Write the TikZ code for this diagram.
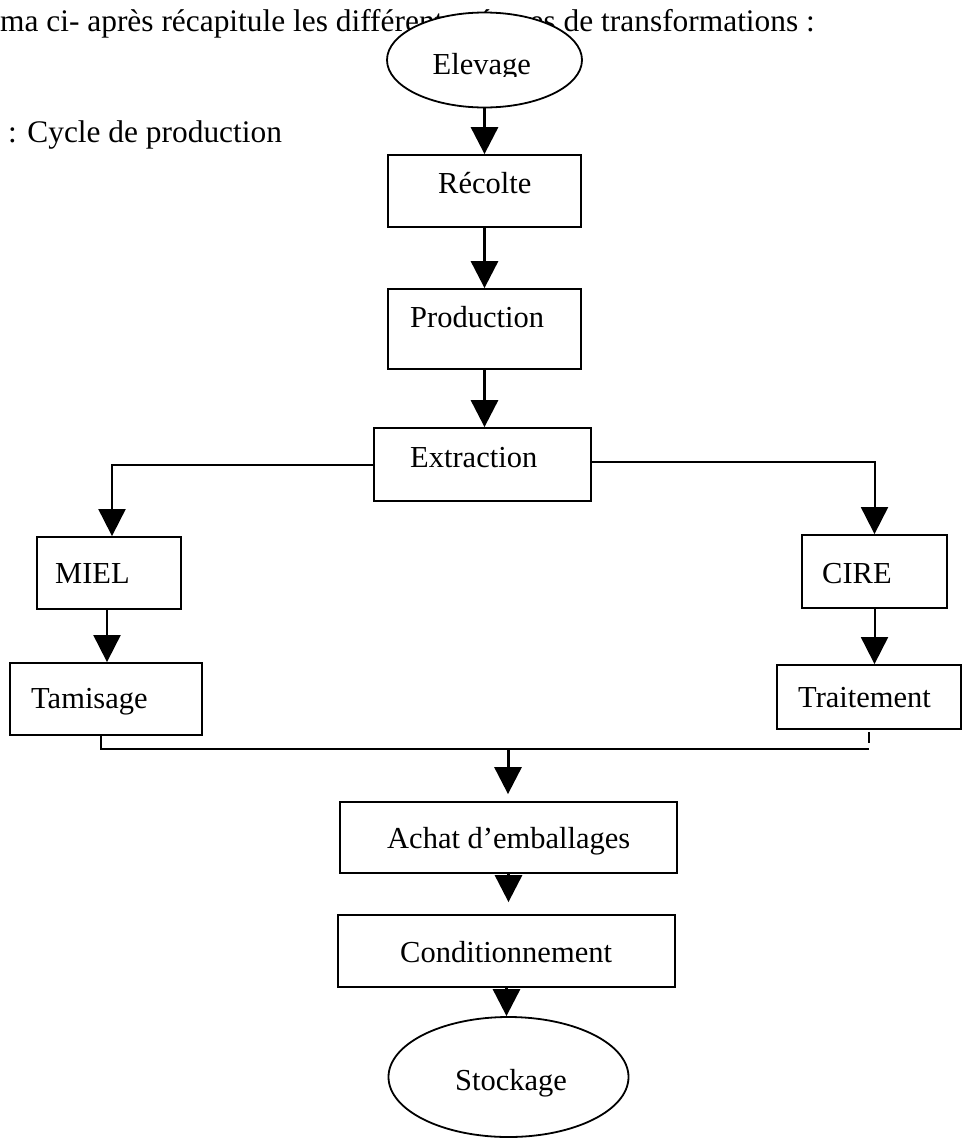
\documentclass[tikz,border=0pt]{standalone}
\usepackage{fontspec}
\setmainfont{Liberation Serif}
\usetikzlibrary{arrows.meta,shapes.geometric}
\tikzset{
  boxnode/.style={draw=black, line width=1.8pt, rectangle, inner sep=0pt},
  ovalnode/.style={draw=black, line width=1.8pt, ellipse, inner sep=0pt},
  txt/.style={inner sep=0pt, anchor=base west, font=\fontsize{30.5}{36}\selectfont},
  hdr/.style={inner sep=0pt, anchor=base west, font=\fontsize{31.4}{37}\selectfont},
  bigarrow/.style={line width=3pt, -{Triangle[length=27pt,width=27pt]}},
  sidearrow/.style={line width=2pt, -{Triangle[length=27pt,width=27pt]}},
  thinline/.style={line width=2pt}
}
\begin{document}
\begin{tikzpicture}[x=1pt,y=-1pt]
\useasboundingbox (0,0) rectangle (962,1138);
% header texts
\node[hdr] (head) at (0,31) {ma ci- après récapitule les différentes étapes de transformations :};
\node[hdr] (cap) at (8,142) {: Cycle de production};
% ellipses
\node[ovalnode, fill=white, minimum width=195pt, minimum height=95pt] (elev) at (484.5,60) {};
\begin{scope}
\clip (380,0) rectangle (600,76);
\node[txt] (elevT) at (432.5,74.3) {Elevage};
\end{scope}
\node[ovalnode, minimum width=240pt, minimum height=120pt] (stock) at (508.5,1077) {};
\node[txt] (stockT) at (455,1090) {Stockage};
% boxes
\node[boxnode, minimum width=193pt, minimum height=72pt] (rec) at (484.5,191) {};
\node[txt] (recT) at (438,193) {Récolte};
\node[boxnode, minimum width=193pt, minimum height=80pt] (prod) at (484.5,329) {};
\node[txt] (prodT) at (410,327) {Production};
\node[boxnode, minimum width=217pt, minimum height=73pt] (ext) at (482.5,464.5) {};
\node[txt] (extT) at (410,467) {Extraction};
\node[boxnode, minimum width=144pt, minimum height=72pt] (miel) at (109,573) {};
\node[txt] (mielT) at (55,583) {MIEL};
\node[boxnode, minimum width=145pt, minimum height=73pt] (cire) at (874.5,571.5) {};
\node[txt] (cireT) at (822,583) {CIRE};
\node[boxnode, minimum width=192pt, minimum height=72pt] (tam) at (106,699) {};
\node[txt] (tamT) at (31,708) {Tamisage};
\node[boxnode, minimum width=184pt, minimum height=64pt] (trait) at (869,697) {};
\node[txt] (traitT) at (798,707) {Traitement};
\node[boxnode, minimum width=337pt, minimum height=71pt] (achat) at (508.5,837.5) {};
\node[txt] (achatT) at (387,848) {Achat d’emballages};
\node[boxnode, minimum width=337pt, minimum height=72pt] (cond) at (506.5,951) {};
\node[txt] (condT) at (400,962) {Conditionnement};
% coordinates for merge
\coordinate (tamOut) at (101,735);
\coordinate (mergeL) at (101,749);
\coordinate (mergeR) at (869,749);
\coordinate (mergeC) at (508,749);
\coordinate (traitOut) at (869,732);
\coordinate (traitStub) at (869,743);
% connectors
\draw[bigarrow] (elev.south) -- (rec.north);
\draw[bigarrow] (rec.south) -- (prod.north);
\draw[bigarrow] (prod.south) -- (prod.south |- ext.north);
\draw[sidearrow] (ext.west) -| ([xshift=3pt]miel.north);
\draw[sidearrow] ([yshift=2.5pt]ext.east) -| (cire.north);
\draw[sidearrow] ([xshift=-2pt]miel.south) -- ([xshift=-2pt]miel.south |- tam.north);
\draw[sidearrow] (cire.south) -- (cire.south |- trait.north);
\draw[thinline] (tamOut) -- (mergeL) -- (mergeR);
\draw[thinline] (traitOut) -- (traitStub);
\draw[bigarrow, shorten >=7pt] (mergeC) -- (mergeC |- achat.north);
\draw[bigarrow, shorten >=12pt] (achat.south) -- (achat.south |- cond.north);
\draw[bigarrow] (cond.south) -- (cond.south |- stock.north);
\end{tikzpicture}
\end{document}
